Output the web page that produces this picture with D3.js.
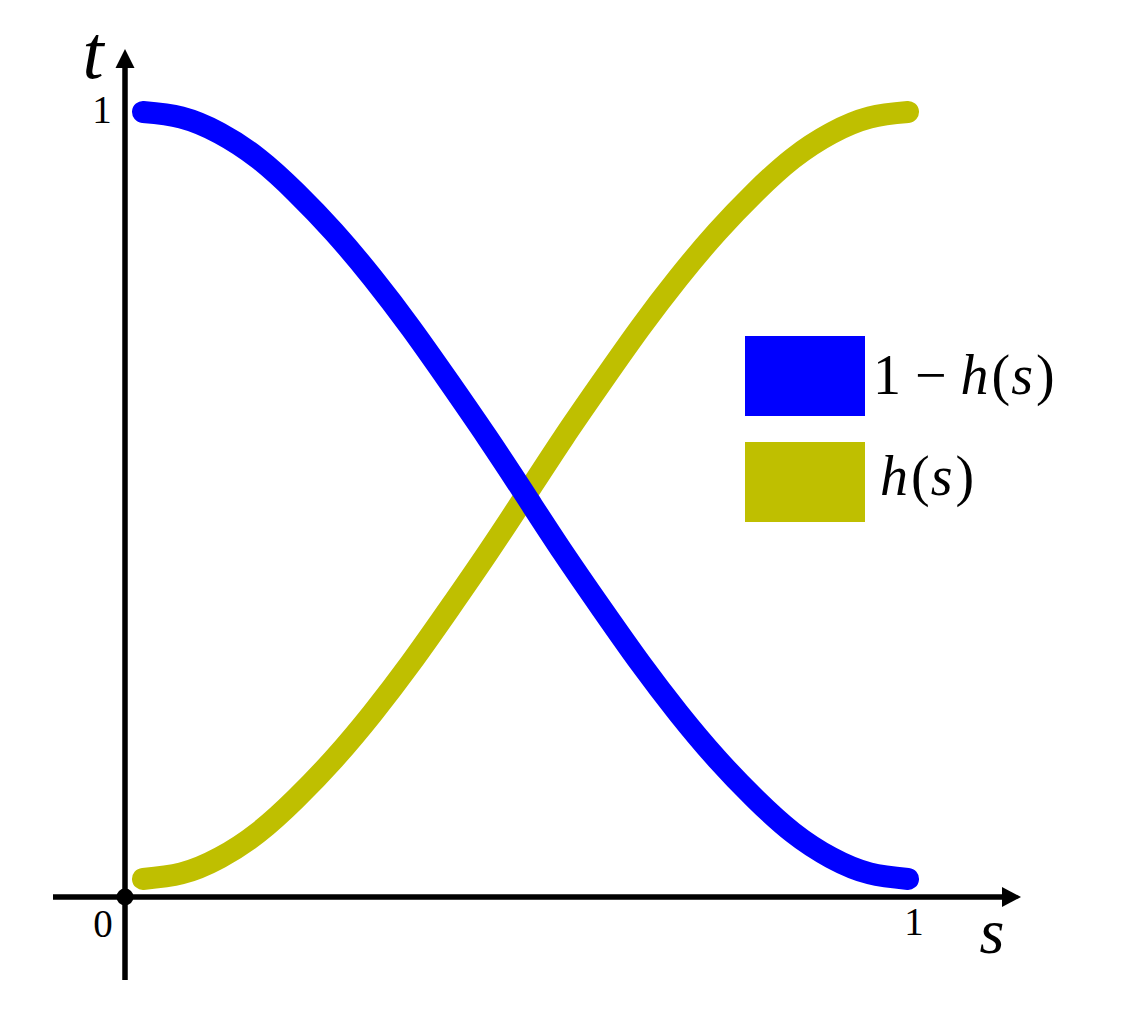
<!DOCTYPE html>
<html>
<head>
<meta charset="utf-8">
<script src="https://cdn.jsdelivr.net/npm/d3@7"></script>
<style>
  html, body { margin: 0; padding: 0; background: #fff; }
  svg { display: block; }
  text { font-family: "Liberation Serif", "DejaVu Serif", serif; fill: #000; }
</style>
</head>
<body>
<svg id="chart" width="1136" height="1016"></svg>
<script>
// ---- data ----
const sValues = [0.023, 0.072, 0.121, 0.170, 0.218, 0.267, 0.316, 0.365, 0.414, 0.463, 0.512,
                 0.560, 0.609, 0.658, 0.707, 0.756, 0.805, 0.853, 0.902, 0.951, 1.000];
const hValues = [0.023, 0.030, 0.050, 0.082, 0.125, 0.176, 0.234, 0.298, 0.367, 0.438, 0.512,
                 0.585, 0.656, 0.725, 0.789, 0.847, 0.898, 0.941, 0.973, 0.993, 1.000];
const oneMinusHValues = [1.000, 0.993, 0.973, 0.941, 0.898, 0.847, 0.789, 0.725, 0.656, 0.585, 0.511,
                         0.438, 0.367, 0.298, 0.234, 0.176, 0.125, 0.082, 0.050, 0.030, 0.023];
const seriesNames = ["1 − h(s)", "h(s)"];
const xTickLabels = ["0", "1"];
const yTickLabels = ["1"];
const axisLabels = ["s", "t"];

// ---- drawing ----
const svg = d3.select("#chart");
const x = d3.scaleLinear().domain([0, 1]).range([125, 908]);
const y = d3.scaleLinear().domain([0, 1]).range([897, 112]);

const colors = { blue: "#0000ff", olive: "#bfbf00" };

const line = d3.line()
  .x(d => x(d[0]))
  .y(d => y(d[1]))
  .curve(d3.curveNatural);

const hData = sValues.map((s, i) => [s, hValues[i]]);
const omhData = sValues.map((s, i) => [s, oneMinusHValues[i]]);

// curves (h first, blue on top)
svg.append("path").datum(hData)
  .attr("d", line).attr("fill", "none")
  .attr("stroke", colors.olive).attr("stroke-width", 22)
  .attr("stroke-linecap", "round").attr("stroke-linejoin", "round");
svg.append("path").datum(omhData)
  .attr("d", line).attr("fill", "none")
  .attr("stroke", colors.blue).attr("stroke-width", 22)
  .attr("stroke-linecap", "round").attr("stroke-linejoin", "round");

// axes
const ax = svg.append("g");
ax.append("line").attr("x1", 53).attr("x2", 1005).attr("y1", y(0)).attr("y2", y(0))
  .attr("stroke", "#000").attr("stroke-width", 5.5);
ax.append("line").attr("x1", x(0)).attr("x2", x(0)).attr("y1", 980).attr("y2", 65)
  .attr("stroke", "#000").attr("stroke-width", 5.5);
// arrowheads
ax.append("path")
  .attr("d", `M1021,${y(0)} L1002,${y(0) - 10} L1002,${y(0) + 10} Z`)
  .attr("fill", "#000");
ax.append("path")
  .attr("d", `M${x(0)},49 L${x(0) - 9.5},68 L${x(0) + 9.5},68 Z`)
  .attr("fill", "#000");
// origin dot
ax.append("circle").attr("cx", x(0)).attr("cy", y(0)).attr("r", 8.5).attr("fill", "#000");

// tick labels
svg.append("text").attr("x", 103).attr("y", 937).attr("text-anchor", "middle")
  .attr("font-size", 39).text(xTickLabels[0]);
svg.append("text").attr("x", x(1) + 6).attr("y", 935).attr("text-anchor", "middle")
  .attr("font-size", 39).text(xTickLabels[1]);
svg.append("text").attr("x", 102).attr("y", 123).attr("text-anchor", "middle")
  .attr("font-size", 39).text(yTickLabels[0]);

// axis labels
svg.append("text").attr("x", 992).attr("y", 953).attr("text-anchor", "middle")
  .attr("font-size", 64).attr("font-style", "italic").text(axisLabels[0]);
svg.append("text").attr("x", 93).attr("y", 78).attr("text-anchor", "middle")
  .attr("font-size", 76).attr("font-style", "italic").text(axisLabels[1]);

// legend
const legend = svg.append("g");
legend.append("rect").attr("x", 745).attr("y", 336).attr("width", 120).attr("height", 80)
  .attr("fill", colors.blue);
legend.append("rect").attr("x", 745).attr("y", 442).attr("width", 120).attr("height", 80)
  .attr("fill", colors.olive);

function mathText(g, xPos, yPos, parts) {
  const t = g.append("text").attr("x", xPos).attr("y", yPos).attr("font-size", 56);
  parts.forEach(p => {
    const ts = t.append("tspan").text(p.t);
    if (p.i) ts.attr("font-style", "italic");
    if (p.dx) ts.attr("dx", p.dx);
  });
  return t;
}
// "1 − h(s)"
mathText(legend, 873, 394, [
  { t: "1" }, { t: "−", dx: 14 }, { t: "h", i: true, dx: 14 }, { t: "(", dx: 3 }, { t: "s", i: true, dx: 1 }, { t: ")", dx: 3 }
]).attr("data-label", seriesNames[0]);
// "h(s)"
mathText(legend, 880, 495, [
  { t: "h", i: true }, { t: "(", dx: 3 }, { t: "s", i: true, dx: 1 }, { t: ")", dx: 3 }
]).attr("data-label", seriesNames[1]);
</script>
</body>
</html>
